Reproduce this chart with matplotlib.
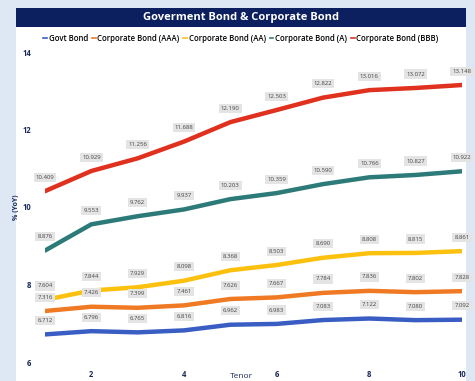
import matplotlib
matplotlib.use("Agg")
import matplotlib.pyplot as plt
from matplotlib.patches import Rectangle
from matplotlib.lines import Line2D

plt.rcParams['font.family'] = ['Open Sans', 'DejaVu Sans']

tenor = [1, 2, 3, 4, 5, 6, 7, 8, 9, 10]
govt = [6.712, 6.796, 6.765, 6.816, 6.962, 6.983, 7.083, 7.122, 7.080, 7.092]
aaa = [7.316, 7.426, 7.399, 7.461, 7.626, 7.667, 7.784, 7.836, 7.802, 7.828]
aa = [7.604, 7.844, 7.929, 8.098, 8.368, 8.503, 8.690, 8.808, 8.815, 8.861]
a = [8.876, 9.553, 9.762, 9.937, 10.203, 10.359, 10.590, 10.766, 10.827, 10.922]
bbb = [10.409, 10.929, 11.256, 11.688, 12.190, 12.503, 12.822, 13.016, 13.072, 13.148]

series_names = ["Govt Bond", "Corporate Bond (AAA)", "Corporate Bond (AA)",
                "Corporate Bond (A)", "Corporate Bond (BBB)"]
series_vals = [govt, aaa, aa, a, bbb]
colors = ["#3a5dc4", "#f07a24", "#fcc10f", "#2d7b78", "#e0301e"]
yticks = [6, 8, 10, 12, 14]
xticks = [2, 4, 6, 8, 10]

W, H = 475, 381
fig = plt.figure(figsize=(W / 100, H / 100), dpi=100)
fig.patch.set_facecolor("#dde8f4")

# white panel
fig.add_artist(Rectangle((16 / W, 0), (466 - 16) / W, 1 - 8 / H,
                         transform=fig.transFigure, facecolor="white",
                         edgecolor="none", zorder=0))
# title bar
fig.add_artist(Rectangle((16 / W, 1 - 27 / H), (466 - 16) / W, 19 / H,
                         transform=fig.transFigure, facecolor="#0c1f5e",
                         edgecolor="none", zorder=1))
fig.text(241 / W, 1 - 17.5 / H, "Goverment Bond & Corporate Bond", color="white",
         fontsize=8, fontweight="bold", ha="center", va="center")

# legend
handles = [Line2D([0], [0], color=c, lw=1.2) for c in colors]
fig.legend(handles, series_names, loc="center", bbox_to_anchor=(241 / W, 1 - 38.5 / H),
           ncol=5, frameon=False, handlelength=0.45, handletextpad=0.25,
           columnspacing=0.5, prop={'weight': 'semibold', 'size': 5.6})

ax = fig.add_axes([45 / W, 1 - 362 / H, (462 - 45) / W, (362 - 52) / H])
ax.set_facecolor("none")
for name, vals, c in zip(series_names, series_vals, colors):
    ax.plot(tenor, vals, color=c, lw=3.2, solid_capstyle="round",
            solid_joinstyle="round", zorder=3)
    for x, v in zip(tenor, vals):
        ax.annotate(f"{v:.3f}", (x, v), xytext=(0, 10), textcoords="offset points",
                    ha="center", va="center", fontsize=4.3, color="#444444",
                    bbox=dict(boxstyle="square,pad=0.35", fc="#e4e4e4", ec="none"),
                    zorder=4)

ax.set_xlim(1, 10)
ax.set_ylim(6, 14)
ax.set_xticks(xticks)
ax.set_yticks(yticks)
ax.tick_params(length=0, labelsize=5.5, colors="#1a2a5a", pad=10)
ax.tick_params(axis="x", pad=6)
for lab in ax.get_xticklabels() + ax.get_yticklabels():
    lab.set_fontweight("bold")
for s in ax.spines.values():
    s.set_visible(False)
ax.set_ylabel("% (YoY)", fontsize=5, color="#1a2a5a", fontweight="bold", labelpad=2)
fig.text(241 / W, 0.5 / H, "Tenor", fontsize=6, color="#1a2a5a", ha="center", va="bottom")

fig.savefig("out.png", dpi=100)
